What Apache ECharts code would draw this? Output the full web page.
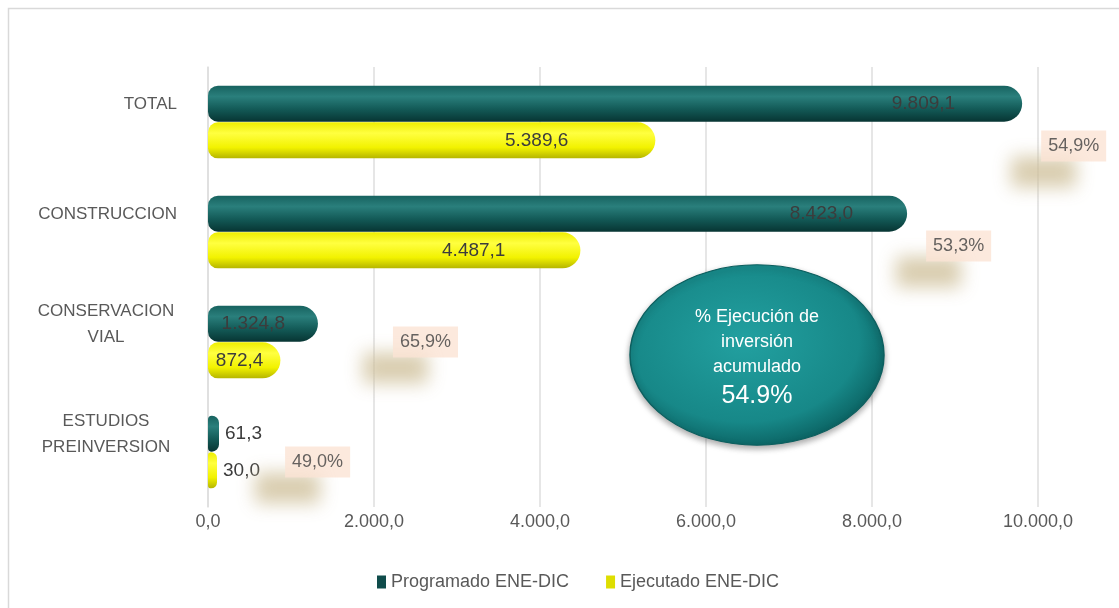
<!DOCTYPE html>
<html>
<head>
<meta charset="utf-8">
<script src="https://cdn.jsdelivr.net/npm/echarts@6/dist/echarts.min.js"></script>
<style>
  html, body { margin: 0; padding: 0; background: #fff; }
  #chart { width: 1119px; height: 608px; }
</style>
</head>
<body>
<div id="chart"></div>
<script>
const categories = ["TOTAL", "CONSTRUCCION", "CONSERVACION\nVIAL", "ESTUDIOS\nPREINVERSION"];
const programado = [9809.1, 8423.0, 1324.8, 61.3];
const ejecutado = [5389.6, 4487.1, 872.4, 30.0];
const porcentaje = ["54,9%", "53,3%", "65,9%", "49,0%"];
const xTicks = [0, 2000, 4000, 6000, 8000, 10000];
const seriesNames = ["Programado ENE-DIC", "Ejecutado ENE-DIC"];
const acumulado = "54.9%";

const font = "Liberation Sans, Arial, sans-serif";
const textGray = "#595959";

// número con formato es: 9.809,1
function fmt(v) {
  const parts = v.toFixed(1).split(".");
  return parts[0].replace(/\B(?=(\d{3})+(?!\d))/g, ".") + "," + parts[1];
}

// distancias de las etiquetas dentro de la barra (ajuste visual)
const progLabelDist = [67, 54, 33, 6];
const ejecLabelDist = [87, 75, 17, 6];
const pctOffset = [[19, 24], [19, 14], [75, 0], [72, 10]];

const tealFill = new echarts.graphic.LinearGradient(0, 0, 0, 1, [
  { offset: 0, color: "#17625f" },
  { offset: 0.3, color: "#2a7f7c" },
  { offset: 0.65, color: "#135a57" },
  { offset: 1, color: "#073533" }
]);
const yellowFill = new echarts.graphic.LinearGradient(0, 0, 0, 1, [
  { offset: 0, color: "#eeee00" },
  { offset: 0.3, color: "#ffff40" },
  { offset: 0.7, color: "#f2f200" },
  { offset: 1, color: "#b5b500" }
]);

function barData(values, dists) {
  return values.map((v, i) => ({
    value: v,
    label: v < 200
      ? { position: "right", distance: dists[i] }
      : { position: "insideRight", distance: dists[i] }
  }));
}

const chart = echarts.init(document.getElementById("chart"));
chart.setOption({
  animation: false,
  grid: { left: 208, right: 81, top: 67, bottom: 101 },
  legend: {
    left: 372,
    top: 568,
    itemWidth: 9,
    itemHeight: 13,
    itemGap: 37,
    icon: "rect",
    textStyle: { fontFamily: font, fontSize: 18, color: textGray },
    data: [
      { name: seriesNames[0], itemStyle: { color: "#0f4c4b" } },
      { name: seriesNames[1], itemStyle: { color: "#dede00" } }
    ]
  },
  xAxis: {
    type: "value",
    min: 0,
    max: 10000,
    interval: 2000,
    axisLine: { show: false },
    axisTick: { show: false },
    splitLine: { lineStyle: { color: "#dedede", width: 1.5 } },
    axisLabel: {
      fontFamily: font,
      fontSize: 18,
      color: textGray,
      margin: 6,
      formatter: v => (xTicks.includes(v) ? fmt(v) : "")
    }
  },
  yAxis: {
    type: "category",
    inverse: true,
    data: categories,
    offset: 11,
    axisLine: { show: true, lineStyle: { color: "#dedede", width: 1.5 } },
    axisTick: { show: false },
    axisLabel: {
      fontFamily: font,
      fontSize: 17,
      color: textGray,
      margin: 20,
      lineHeight: 26,
      padding: [0, 0, 36, 0],
      formatter: v => {
        const lines = v.split("\n");
        if (lines.length === 1) return v;
        return lines.map(l => "{c|" + l + "}").join("\n");
      },
      rich: {
        c: { width: 142, align: "center", fontFamily: font, fontSize: 17, color: textGray, lineHeight: 26 }
      }
    }
  },
  series: [
    {
      name: seriesNames[0],
      type: "bar",
      barWidth: 36,
      barGap: "2%",
      barMinHeight: 11,
      data: barData(programado, progLabelDist),
      itemStyle: { color: tealFill, borderRadius: [10, 18, 18, 10] },
      label: {
        show: true,
        fontFamily: font,
        fontSize: 19,
        color: "#3c3c3c",
        formatter: p => fmt(p.value)
      },
      z: 3
    },
    {
      name: seriesNames[1],
      type: "bar",
      barWidth: 36,
      barMinHeight: 9,
      data: barData(ejecutado, ejecLabelDist),
      itemStyle: { color: yellowFill, borderRadius: [10, 18, 18, 10] },
      label: {
        show: true,
        fontFamily: font,
        fontSize: 19,
        color: "#3c3c3c",
        formatter: p => fmt(p.value)
      },
      z: 3
    },
    {
      name: "pct",
      type: "scatter",
      symbolSize: 0,
      silent: true,
      data: programado.map((v, i) => ({
        value: [v, i],
        label: { offset: pctOffset[i] }
      })),
      label: {
        show: true,
        position: "right",
        distance: 0,
        formatter: p => porcentaje[p.dataIndex],
        fontFamily: font,
        fontSize: 18,
        color: "#404040",
        backgroundColor: "#fbe4d5",
        padding: [7, 7, 6, 7],
        shadowColor: "rgba(205, 190, 150, 0.95)",
        shadowBlur: 18,
        shadowOffsetX: -30,
        shadowOffsetY: 26
      },
      z: 5
    }
  ],
  graphic: [
    {
      type: "rect",
      shape: { x: 8.5, y: 8.5, width: 1200, height: 700 },
      style: { fill: "none", stroke: "#d9d9d9", lineWidth: 1.5 },
      silent: true,
      z: 0
    },
    {
      type: "circle",
      x: 757,
      y: 355,
      scaleY: 0.71,
      shape: { cx: 0, cy: 0, r: 127 },
      style: {
        fill: new echarts.graphic.RadialGradient(0.45, 0.42, 0.6, [
          { offset: 0, color: "#22a0a0" },
          { offset: 0.75, color: "#178888" },
          { offset: 1, color: "#0b6262" }
        ]),
        stroke: "#0c5f5f",
        lineWidth: 1.5,
        shadowColor: "rgba(0,0,0,0.35)",
        shadowBlur: 6,
        shadowOffsetY: 3
      },
      z: 10
    },
    {
      type: "text",
      x: 757,
      y: 342,
      style: {
        text: "% Ejecución de\ninversión\nacumulado",
        fill: "#ffffff",
        font: "18px " + font,
        lineHeight: 25,
        align: "center",
        verticalAlign: "middle"
      },
      z: 11
    },
    {
      type: "text",
      x: 757,
      y: 396,
      style: {
        text: acumulado,
        fill: "#ffffff",
        font: "25px " + font,
        align: "center",
        verticalAlign: "middle"
      },
      z: 11
    }
  ]
});
</script>
</body>
</html>
